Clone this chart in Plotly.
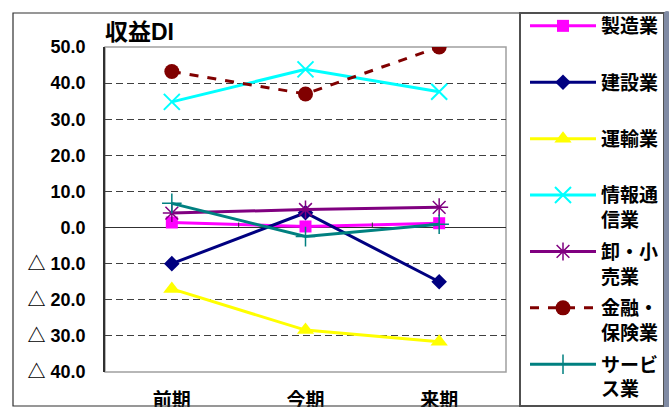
import plotly.graph_objects as go

# ---- data ----
categories = ["前期", "今期", "来期"]
legend_labels = ["製造業", "建設業", "運輸業", "情報通<br>信業", "卸・小<br>売業", "金融・<br>保険業", "サービ<br>ス業"]
manufacturing = [1.4, 0.3, 1.2]
construction = [-10.0, 4.1, -15.0]
transport = [-17.0, -28.4, -31.6]
info_comm = [34.8, 43.8, 37.6]
wholesale_retail = [4.0, 5.0, 5.6]
finance_insurance = [43.2, 37.0, 50.0]
services = [6.7, -2.5, 0.9]
y_tick_values = [50, 40, 30, 20, 10, 0, -10, -20, -30, -40]
y_tick_labels = ["50.0", "40.0", "30.0", "20.0", "10.0", "0.0", "△ 10.0", "△ 20.0", "△ 30.0", "△ 40.0"]
title_text = "収益DI"

series = [
    (manufacturing, "#FF00FF", "square", 12, None, "solid"),
    (construction, "#000080", "diamond", 12, None, "solid"),
    (transport, "#FFFF00", "triangle-up", 15, None, "solid"),
    (info_comm, "#00FFFF", "x-thin-open", 16, 2, "solid"),
    (wholesale_retail, "#800080", "asterisk-open", 15, 1.5, "solid"),
    (finance_insurance, "#800000", "circle", 15, None, "9px,9px"),
    (services, "#008080", "cross-thin-open", 14, 1.5, "solid"),
]

FONT = "Liberation Sans, Noto Sans CJK JP, sans-serif"

fig = go.Figure()
for i, ((vals, color, sym, size, mlw, dash), label) in enumerate(zip(series, legend_labels)):
    name = label if "<br>" in label else label + "<br>\u3000"
    marker = dict(symbol=sym, size=size, color=color)
    if mlw:
        marker["line"] = dict(color=color, width=mlw)
    fig.add_trace(go.Scatter(
        x=categories, y=vals, mode="lines+markers", name=name,
        legendgroup=f"g{i}",
        line=dict(color=color, width=3, dash=dash),
        marker=marker,
    ))

# plot geometry in px
W, H = 669, 407
L, R, T, B = 105, 506, 47, 372
pw, ph = R - L, B - T

def px_x(x):
    return (x - L) / pw

def px_y(y):
    return (B - y) / ph

shapes = [
    # plot area border
    dict(type="rect", xref="x domain", yref="y domain", x0=0, x1=1, y0=0, y1=1,
         line=dict(color="#A0A0A0", width=1.5), layer="below"),
    # outer chart border
    dict(type="rect", xref="paper", yref="paper", x0=px_x(13), x1=px_x(664),
         y0=px_y(406), y1=px_y(13), line=dict(color="#303030", width=1.2)),
    # legend box
    dict(type="rect", xref="paper", yref="paper", x0=px_x(520), x1=px_x(664),
         y0=px_y(406), y1=px_y(13), line=dict(color="#505050", width=2)),
]
# small category tick marks on the zero line
for k in range(len(categories) - 1):
    shapes.append(dict(type="line", xref="x", yref="y", x0=k + 0.5, x1=k + 0.5,
                       y0=0, y1=1.4, line=dict(color="#303030", width=1)))

fig.update_layout(
    width=W, height=H,
    margin=dict(l=L, r=W - R, t=T, b=H - B, autoexpand=False),
    paper_bgcolor="white", plot_bgcolor="white",
    font=dict(family=FONT, color="black", size=16),
    title=dict(text=title_text, xref="paper", x=0, xanchor="left",
               yref="container", y=1 - 32 / H, yanchor="middle",
               font=dict(size=23, weight="bold", family=FONT)),
    showlegend=True,
    legend=dict(x=px_x(525), xanchor="left", y=px_y(7), yanchor="top",
                traceorder="grouped", tracegroupgap=4, valign="top",
                font=dict(size=19, weight="bold", family=FONT),
                bgcolor="rgba(0,0,0,0)", borderwidth=0, itemwidth=66,
                maxheight=400),
    shapes=shapes,
)

fig.update_xaxes(
    type="category", range=[-0.5, len(categories) - 0.5], automargin=False,
    showgrid=False, showline=False, ticks="", ticklabelstandoff=15,
    tickfont=dict(size=19, weight="bold", family=FONT),
)
fig.update_yaxes(
    range=[-40, 50], tickmode="array", tickvals=y_tick_values, ticktext=y_tick_labels,
    automargin=False,
    showgrid=True, gridcolor="#404040", gridwidth=1, griddash="7px,4px",
    zeroline=True, zerolinecolor="#303030", zerolinewidth=1.2,
    showline=True, linecolor="#303030", linewidth=1.5,
    ticks="", ticklabelstandoff=14,
    tickfont=dict(size=18, weight="bold", family=FONT),
)

fig.write_html("out.html")
